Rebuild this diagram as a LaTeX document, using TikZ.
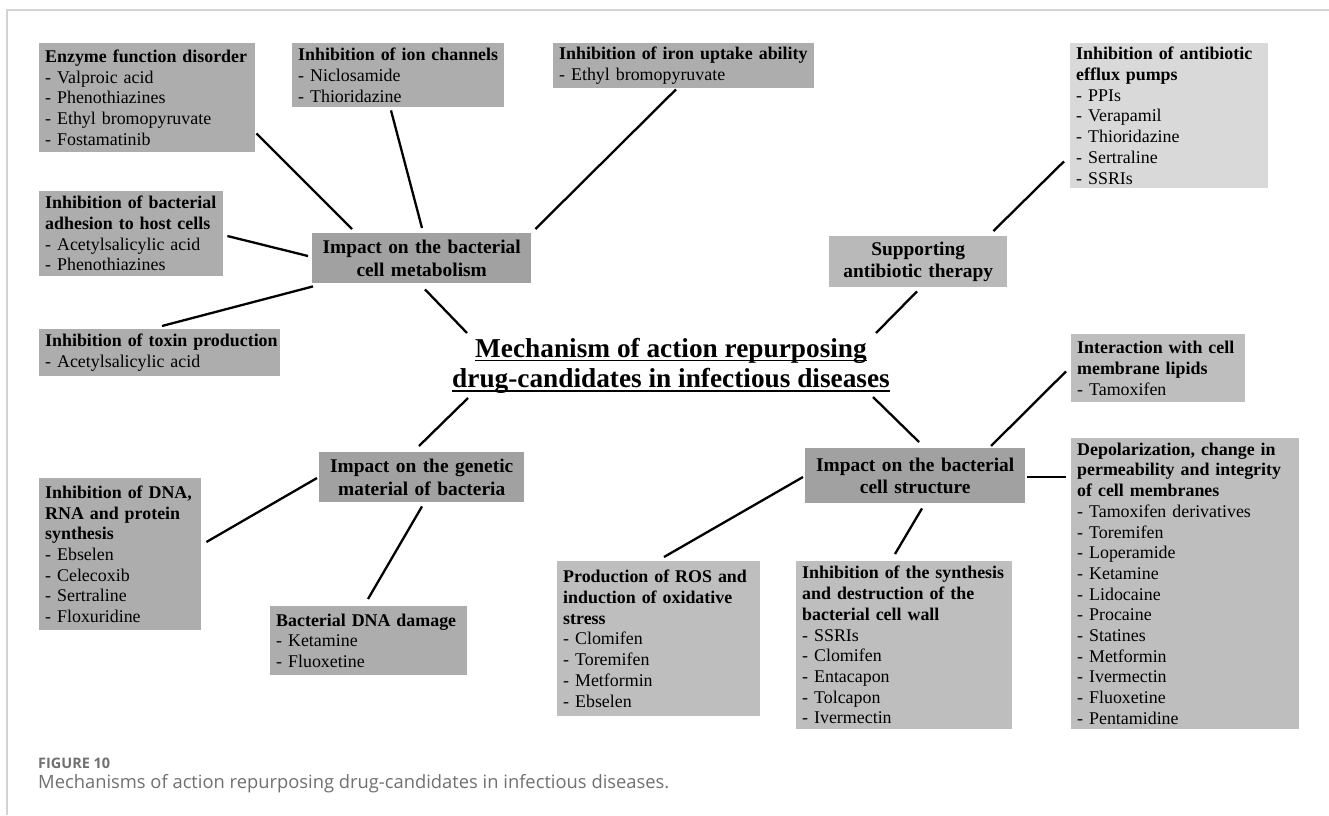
\documentclass[tikz,border=0pt]{standalone}
\usepackage{fontspec}
\setmainfont{Liberation Serif}
\newfontfamily\capfont{Open Sans}
\newsavebox\myulbox
\newcommand\myul[1]{\sbox\myulbox{#1}\usebox\myulbox\llap{\rule[-4pt]{\wd\myulbox}{1.8pt}}}
\newcommand\hd[1]{\mbox{\bfseries #1}}
\usetikzlibrary{calc}
\definecolor{cA}{HTML}{ADADAD}
\definecolor{cB}{HTML}{A1A1A1}
\definecolor{cC}{HTML}{BEBEBE}
\definecolor{cS}{HTML}{B9B9B9}
\definecolor{cE}{HTML}{D9D9D9}
\definecolor{frame}{HTML}{D3D3D3}
\definecolor{capgray}{HTML}{707070}
\tikzset{
  sub/.style={anchor=north west, inner xsep=6pt, inner ysep=0pt, align=left,
    font=\fontsize{17.9}{20.7}\selectfont},
  mid/.style={anchor=north west, inner xsep=0pt, inner ysep=0pt, align=center,
    font=\bfseries\fontsize{19.4}{22.6}\selectfont},
  link/.style={line width=2.3pt, black},
}
\begin{document}
\begin{tikzpicture}[x=1pt,y=1pt]
\useasboundingbox (0,0) rectangle (1329,-815);
\fill[white] (0,0) rectangle (1329,-815);
% frame
\draw[frame, line width=2pt] (7,-815) -- (7,-10) -- (1329,-10);

% top-left cluster
\node[sub, fill=cA, minimum width=216pt, minimum height=109pt, text width=204pt] (enz) at (39,-43)
  {\hd{Enzyme function disorder}\\- Valproic acid\\- Phenothiazines\\- Ethyl bromopyruvate\\- Fostamatinib};
\node[sub, fill=cA, minimum width=212pt, minimum height=64pt, text width=200pt] (ion) at (292,-43)
  {\hd{Inhibition of ion channels}\\- Niclosamide\\- Thioridazine};
\node[sub, fill=cA, minimum width=261pt, minimum height=45pt, text width=249pt] (iron) at (553,-43)
  {\hd{Inhibition of iron uptake ability}\\- Ethyl bromopyruvate};
\node[sub, fill=cA, minimum width=184pt, minimum height=85pt, text width=172pt] (adh) at (39,-191)
  {\hd{Inhibition of bacterial}\\\hd{adhesion to host cells}\\- Acetylsalicylic acid\\- Phenothiazines};
\node[sub, fill=cA, minimum width=241pt, minimum height=47pt, text width=229pt] (tox) at (39,-329)
  {\hd{Inhibition of toxin production}\\- Acetylsalicylic acid};
\node[mid, fill=cB, minimum width=219pt, minimum height=50pt, text width=219pt] (met) at (312,-233)
  {Impact on the bacterial\\cell metabolism};

% top-right cluster
\node[sub, fill=cE, minimum width=198pt, minimum height=145pt, text width=186pt] (eff) at (1070,-43)
  {\hd{Inhibition of antibiotic}\\\hd{efflux pumps}\\- PPIs\\- Verapamil\\- Thioridazine\\- Sertraline\\- SSRIs};
\node[mid, fill=cS, minimum width=178pt, minimum height=51pt, text width=178pt] (sup) at (829,-236)
  {Supporting\\antibiotic therapy};

% title
\node[inner sep=0pt, align=center, font=\bfseries\fontsize{27.3}{30.5}\selectfont] (title) at (671,-366)
  {\myul{Mechanism of action repurposing}\\\myul{drug-candidates in infectious diseases}};

% bottom-left cluster
\node[mid, fill=cB, minimum width=205pt, minimum height=50pt, text width=205pt] (gen) at (319,-452)
  {Impact on the genetic\\material of bacteria};
\node[sub, fill=cA, minimum width=162pt, minimum height=152pt, text width=150pt] (dna) at (39,-478)
  {\hd{Inhibition of DNA,}\\\hd{RNA and protein}\\\hd{synthesis}\\- Ebselen\\- Celecoxib\\- Sertraline\\- Floxuridine};
\node[sub, fill=cA, minimum width=197pt, minimum height=69pt, text width=185pt] (dmg) at (270,-606)
  {\hd{Bacterial DNA damage}\\- Ketamine\\- Fluoxetine};

% bottom-right cluster
\node[sub, fill=cC, minimum width=174pt, minimum height=68pt, text width=162pt] (int) at (1071,-334)
  {\hd{Interaction with cell}\\\hd{membrane lipids}\\- Tamoxifen};
\node[mid, fill=cB, minimum width=220pt, minimum height=55pt, text width=220pt] (cs) at (805,-448)
  {Impact on the bacterial\\cell structure};
\node[sub, fill=cC, minimum width=228pt, minimum height=291pt, text width=216pt] (dep) at (1071,-438)
  {\hd{Depolarization, change in}\\\hd{permeability and integrity}\\\hd{of cell membranes}\\- Tamoxifen derivatives\\- Toremifen\\- Loperamide\\- Ketamine\\- Lidocaine\\- Procaine\\- Statines\\- Metformin\\- Ivermectin\\- Fluoxetine\\- Pentamidine};
\node[sub, fill=cC, minimum width=203pt, minimum height=155pt, text width=191pt] (ros) at (557,-561)
  {\hd{Production of ROS and}\\\hd{induction of oxidative}\\\hd{stress}\\- Clomifen\\- Toremifen\\- Metformin\\- Ebselen};
\node[sub, fill=cC, minimum width=216pt, minimum height=168pt, text width=204pt] (cw) at (796,-561)
  {\hd{Inhibition of the synthesis}\\\hd{and destruction of the}\\\hd{bacterial cell wall}\\- SSRIs\\- Clomifen\\- Entacapon\\- Tolcapon\\- Ivermectin};

% connectors
\draw[link] ([shift={(1,19)}]enz.south east) -- ([shift={(40,4)}]met.north west);
\draw[link] ([shift={(99,-3)}]ion.south west) -- ([shift={(110,5)}]met.north west);
\draw[link] ([shift={(123,-1)}]iron.south west) -- ([shift={(4,4)}]met.north east);
\draw[link] ([shift={(4,-45)}]adh.north east) -- ([shift={(-4,-23)}]met.north west);
\draw[link] ([shift={(123,3)}]tox.north west) -- ([shift={(1,-3)}]met.south west);
\draw[link] ([shift={(113,-6)}]met.south west) -- ([shift={(-204,33)}]title.center);
\draw[link] ([shift={(-14,5)}]sup.north east) -- ([shift={(-6,27)}]eff.south west);
\draw[link] ([shift={(88,-4)}]sup.south west) -- ([shift={(205,33)}]title.center);
\draw[link] ([shift={(-203,-32)}]title.center) -- ([shift={(100,6)}]gen.north west);
\draw[link] ([shift={(-2,-26)}]gen.north west) -- ([shift={(5,-64)}]dna.north east);
\draw[link] ([shift={(103,-4)}]gen.south west) -- ([shift={(98,7)}]dmg.north west);
\draw[link] ([shift={(202,-31)}]title.center) -- ([shift={(114,6)}]cs.north west);
\draw[link] ([shift={(-5,31)}]int.south west) -- ([shift={(186,2)}]cs.north west);
\draw[link] ([shift={(2,-29)}]cs.north east) -- ([shift={(-5,-39)}]dep.north west);
\draw[link] ([shift={(-2,-29)}]cs.north west) -- ([shift={(107,4)}]ros.north west);
\draw[link] ([shift={(117,-5)}]cs.south west) -- ([shift={(99,7)}]cw.north west);

% caption
\node[anchor=west, inner sep=0pt, text=capgray] (figlab) at (38,-763)
  {\resizebox{72pt}{!}{\capfont\bfseries FIGURE 10}};
\node[anchor=west, inner sep=0pt, text=capgray] (cap) at (38,-784)
  {\resizebox{631pt}{!}{\capfont Mechanisms of action repurposing drug-candidates in infectious diseases.}};
\end{tikzpicture}
\end{document}
